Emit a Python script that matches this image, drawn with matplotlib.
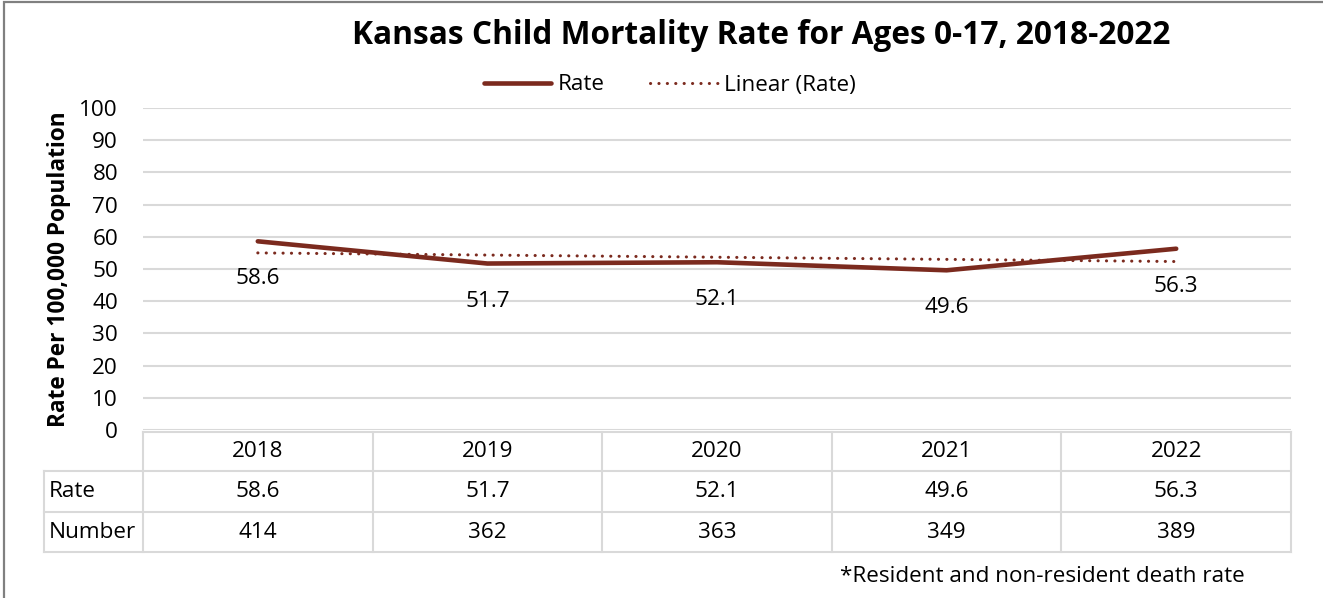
import numpy as np
import matplotlib
matplotlib.use("Agg")
import matplotlib.pyplot as plt
from matplotlib.lines import Line2D
from matplotlib.patches import Rectangle

plt.rcParams['font.family'] = ['Open Sans', 'DejaVu Sans']

years = ["2018", "2019", "2020", "2021", "2022"]
rates = [58.6, 51.7, 52.1, 49.6, 56.3]
numbers = [414, 362, 363, 349, 389]
row_labels = ["Rate", "Number"]
yticks = [0, 10, 20, 30, 40, 50, 60, 70, 80, 90, 100]

LINE_COLOR = "#7B2A1E"
GRID_COLOR = "#D9D9D9"
FS = 16.2

W, H = 1323, 598
fig = plt.figure(figsize=(W / 100, H / 100), dpi=100)


def fx(px):
    return px / W


def fy(py):
    return 1 - py / H


# plot area
left, right, top, bottom = 143, 1291, 108, 430
ax = fig.add_axes([fx(left), fy(bottom), fx(right - left), (bottom - top) / H])
x = np.arange(len(years))
ax.set_xlim(-0.5, len(years) - 0.5)
ax.set_ylim(0, 100)
ax.set_yticks(yticks)
ax.set_yticklabels([str(t) for t in yticks], fontsize=FS)
ax.tick_params(axis='y', length=0, pad=18)
ax.set_xticks([])
for s in ax.spines.values():
    s.set_visible(False)
ax.grid(axis='y', color=GRID_COLOR, linewidth=1.5)
ax.set_axisbelow(True)

# series and linear trend
ax.plot(x, rates, color=LINE_COLOR, linewidth=3.3, solid_capstyle='round',
        label="Rate", zorder=3)
coef = np.polyfit(x, rates, 1)
ax.plot(x, np.polyval(coef, x), color=LINE_COLOR, linewidth=2.2,
        linestyle=(0, (0.05, 2.7)), dash_capstyle='round',
        label="Linear (Rate)", zorder=2)

for xi, r in zip(x, rates):
    ax.annotate(f"{r:.1f}", (xi, r), xytext=(0, -27), textcoords='offset points',
                ha='center', va='center', fontsize=FS, color='black')

ax.set_ylabel("Rate Per 100,000 Population", fontsize=16.3, fontweight='bold')
ax.yaxis.set_label_coords((71 - left) / (right - left), 0.5)

leg = fig.legend(loc='center', bbox_to_anchor=(fx(670), fy(85)), ncol=2,
                 frameon=False, fontsize=FS, handlelength=3.0,
                 columnspacing=2.0, handletextpad=0.3)

fig.text(fx(761), fy(35), "Kansas Child Mortality Rate for Ages 0-17, 2018-2022",
         ha='center', va='center', fontsize=22.8, fontweight='bold')

# data table below the plot
col_w = (right - left) / len(years)
row_y = [432, 471, 512, 552]
tab_left = 44
lw = 1.5
lines = [
    ((left, right), (row_y[0], row_y[0])),
    ((tab_left, right), (row_y[1], row_y[1])),
    ((tab_left, right), (row_y[2], row_y[2])),
    ((tab_left, right), (row_y[3], row_y[3])),
    ((tab_left, tab_left), (row_y[1], row_y[3])),
]
for i in range(len(years) + 1):
    xc = left + i * col_w
    lines.append(((xc, xc), (row_y[0], row_y[3])))
for (xs, ys) in lines:
    fig.add_artist(Line2D([fx(v) for v in xs], [fy(v) for v in ys],
                          color=GRID_COLOR, linewidth=lw))

for i, yr in enumerate(years):
    cx = left + (i + 0.5) * col_w
    fig.text(fx(cx), fy((row_y[0] + row_y[1]) / 2), yr, ha='center',
             va='center', fontsize=FS)
    fig.text(fx(cx), fy((row_y[1] + row_y[2]) / 2), f"{rates[i]:.1f}",
             ha='center', va='center', fontsize=FS)
    fig.text(fx(cx), fy((row_y[2] + row_y[3]) / 2), str(numbers[i]),
             ha='center', va='center', fontsize=FS)
for j, lab in enumerate(row_labels):
    fig.text(fx(tab_left + 5), fy((row_y[j + 1] + row_y[j + 2]) / 2), lab,
             ha='left', va='center', fontsize=FS)

fig.text(fx(1245), fy(577), "*Resident and non-resident death rate",
         ha='right', va='center', fontsize=FS)

# outer chart border
fig.add_artist(Rectangle((fx(4), fy(H + 10)), fx(W + 10), (H + 8) / H,
                         fill=False, edgecolor="#808080", linewidth=1.6))

fig.savefig("out.png", dpi=100)
